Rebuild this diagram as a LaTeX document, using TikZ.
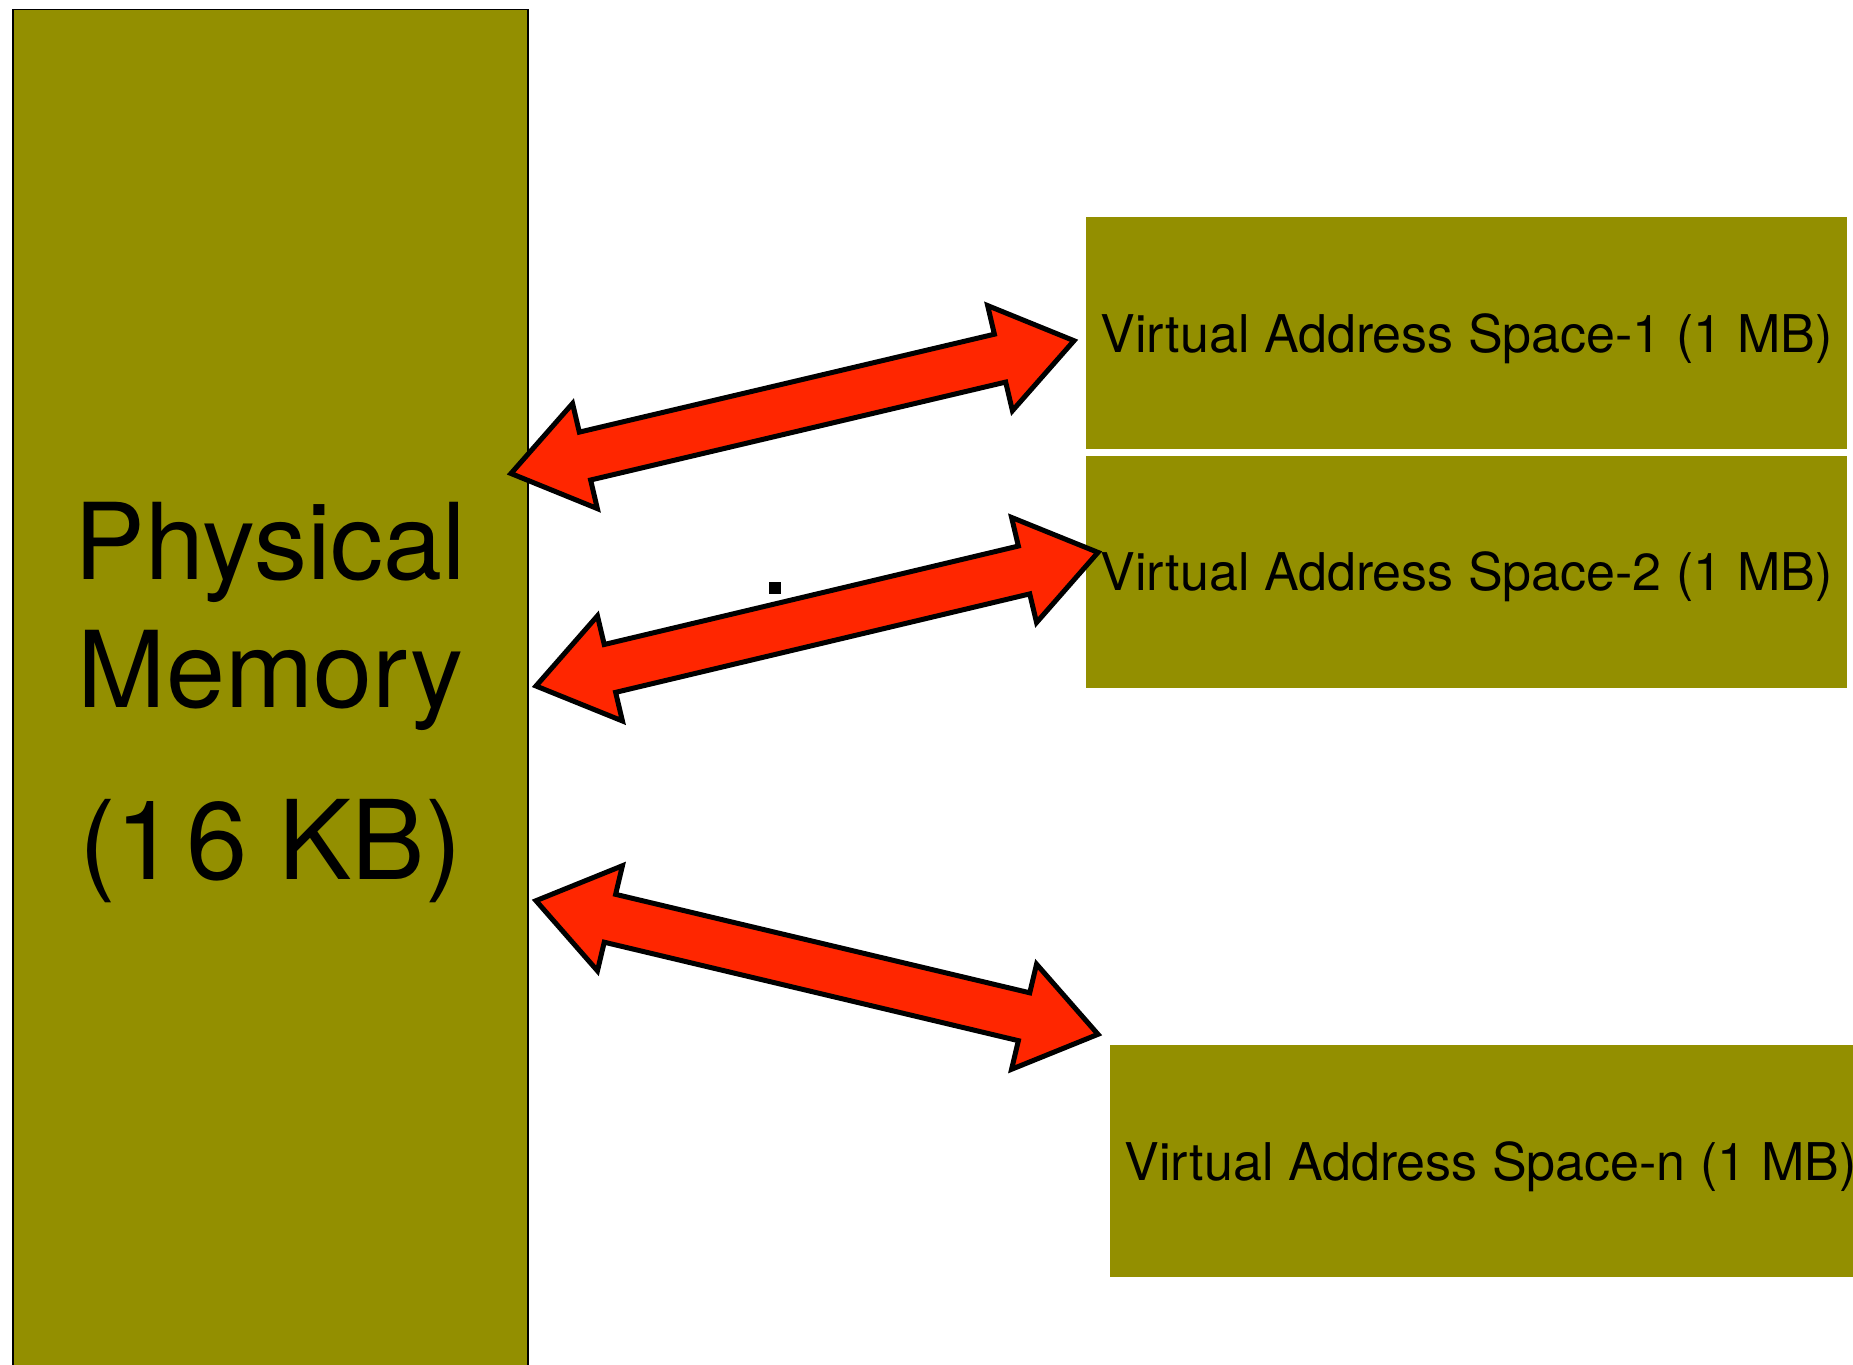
\documentclass[tikz,border=0pt]{standalone}
\usepackage{fontspec}
\setmainfont{TeX Gyre Heros}
\usetikzlibrary{calc}

\definecolor{olivefill}{RGB}{147,143,0}
\definecolor{arrowred}{RGB}{255,38,0}

% Fat double-headed arrow between two named coordinates
\newcommand{\fatdouble}[2]{%
  \coordinate (fdA) at ($(#1)!38pt!(#2)$);
  \coordinate (fdB) at ($(#2)!38pt!(#1)$);
  \draw[bigarrow] (#1)
    -- ($(fdA)!27pt!90:(#1)$)
    -- ($(fdA)!12.3pt!90:(#1)$)
    -- ($(fdB)!12.3pt!-90:(#2)$)
    -- ($(fdB)!27pt!-90:(#2)$)
    -- (#2)
    -- ($(fdB)!27pt!90:(#2)$)
    -- ($(fdB)!12.3pt!90:(#2)$)
    -- ($(fdA)!12.3pt!-90:(#1)$)
    -- ($(fdA)!27pt!-90:(#1)$)
    -- cycle;}

\begin{document}
\begin{tikzpicture}[x=0.5pt,y=-0.5pt,
  membox/.style={rectangle, fill=olivefill, draw=black, line width=0.7pt, inner sep=0pt},
  vasbox/.style={rectangle, fill=olivefill, inner sep=0pt,
    minimum width=380.5pt, minimum height=116pt,
    text height=19pt, text depth=0pt,
    font=\fontsize{26pt}{30pt}\selectfont},
  bigtext/.style={font=\fontsize{53pt}{60pt}\selectfont, anchor=base, inner sep=0pt},
  bigarrow/.style={fill=arrowred, draw=black, line width=2.5pt, line join=miter}]

\useasboundingbox (0,0) rectangle (1853,1365);
\fill[white] (0,0) rectangle (1853,1365);

% Physical memory block
\node[membox, minimum width=257.5pt, minimum height=685.25pt] (phys) at (270.5,694.75) {};
\node[bigtext] (physA) at (270.5,579) {Physical};
\node[bigtext] (physB) at (270.5,707) {Memory};
\node[bigtext, font=\fontsize{55pt}{60pt}\selectfont] (physC) at (270.5,879) {(1\kern5pt 6 KB)};

% Virtual address spaces
\node[vasbox] (vas1) at (1466.5,333)   {Virtual Address Space-1 (1 MB)};
\node[vasbox] (vas2) at (1466.5,571.5) {Virtual Address Space-2 (1 MB)};
\node[vasbox] (vasn) at (1490.5,1161)  {Virtual Address Space-n (1 MB)};

% Arrow end points
\coordinate (pm1) at (511,473.5);
\coordinate (va1) at (1074,340.7);
\coordinate (pm2) at (536,686);
\coordinate (va2) at (1098,552.4);
\coordinate (pm3) at (536,900.7);
\coordinate (va3) at (1098,1034.3);

\fatdouble{pm1}{va1}
\fatdouble{pm2}{va2}
\fatdouble{pm3}{va3}

% small square mark
\node[fill=black, inner sep=0pt, minimum size=6pt] (mark) at (775.3,587.5) {};
\end{tikzpicture}
\end{document}
